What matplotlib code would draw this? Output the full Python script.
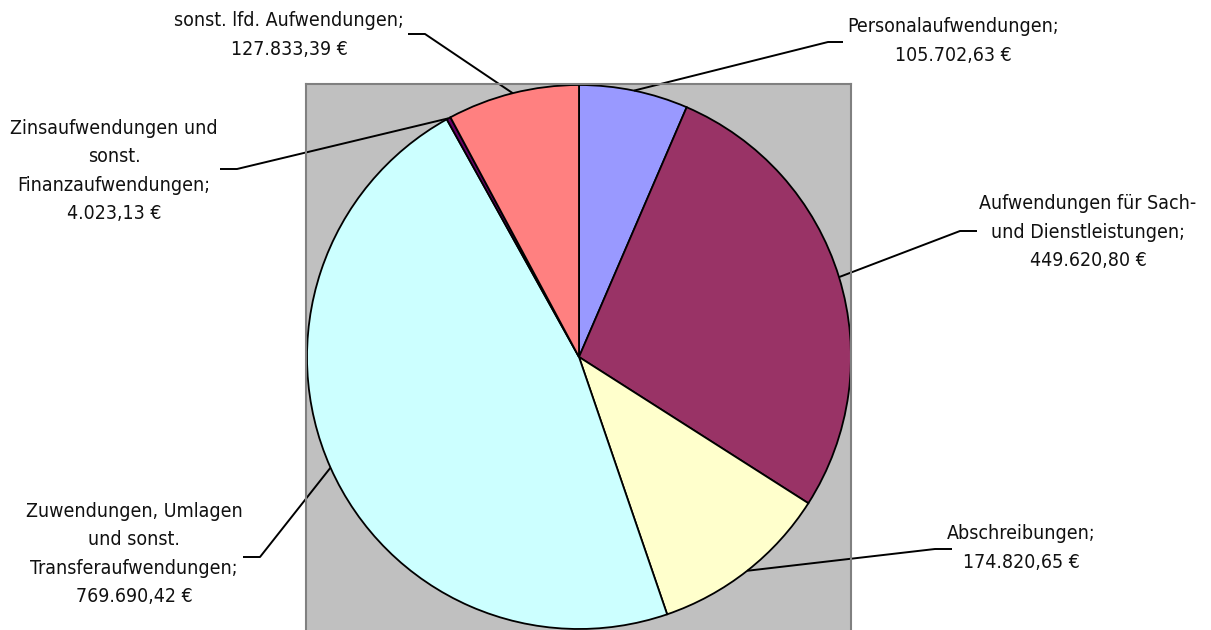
import numpy as np
import matplotlib
matplotlib.use('Agg')
import matplotlib.pyplot as plt

# data
names = ['Personalaufwendungen',
         'Aufwendungen für Sach-\nund Dienstleistungen',
         'Abschreibungen',
         'Zuwendungen, Umlagen\nund sonst.\nTransferaufwendungen',
         'Zinsaufwendungen und\nsonst.\nFinanzaufwendungen',
         'sonst. lfd. Aufwendungen']
values = [105702.63, 449620.80, 174820.65, 769690.42, 4023.13, 127833.39]
colors = ['#9999FF', '#993366', '#FFFFCC', '#CCFFFF', '#660066', '#FF8080']

# label layout (axes units ~ pixels from pie centre): elbow x, line end x, y, text x, text y
label_pos = [
    (249, 264, 315, 374, 316),
    (381, 398, 126, 509, 125),
    (356, 373, -192, 442, -191),
    (-319, -336, -200, -445, -197),
    (-342, -359, 188, -465, 186),
    (-154, -171, 323, -290, 322),
]


def euro(v):
    s = f"{v:,.2f}".replace(',', 'X').replace('.', ',').replace('X', '.')
    return s + ' €'


plt.rcParams['font.family'] = ['DejaVu Sans']

fig = plt.figure(figsize=(12.11, 6.30), dpi=100)
ax = fig.add_axes([306 / 1211, -2 / 630, 545 / 1211, 548 / 630])
ax.set_facecolor('#C0C0C0')
for sp in ax.spines.values():
    sp.set_color('#808080')
    sp.set_linewidth(1.5)

R = 272
wedges, _ = ax.pie(values, colors=colors, startangle=90, counterclock=False,
                   radius=R, center=(0, 0), frame=True,
                   wedgeprops=dict(edgecolor='black', linewidth=1.3))
ax.set_xlim(-273, 272)
ax.set_ylim(-275, 273)
ax.set_aspect('equal')
ax.set_xticks([])
ax.set_yticks([])

for w, name, v, (ex, lx, ly, tx, ty) in zip(wedges, names, values, label_pos):
    mid = np.deg2rad((w.theta1 + w.theta2) / 2)
    px, py = R * np.cos(mid), R * np.sin(mid)
    ax.plot([px, ex, lx], [py, ly, ly], color='black', lw=1.4,
            clip_on=False, solid_capstyle='butt')
    ax.text(tx, ty, f"{name};\n{euro(v)}", ha='center', va='center',
            multialignment='center', fontsize=14, fontstretch='condensed',
            linespacing=1.62, color='#111111', clip_on=False)

fig.savefig('out.png', dpi=100)
